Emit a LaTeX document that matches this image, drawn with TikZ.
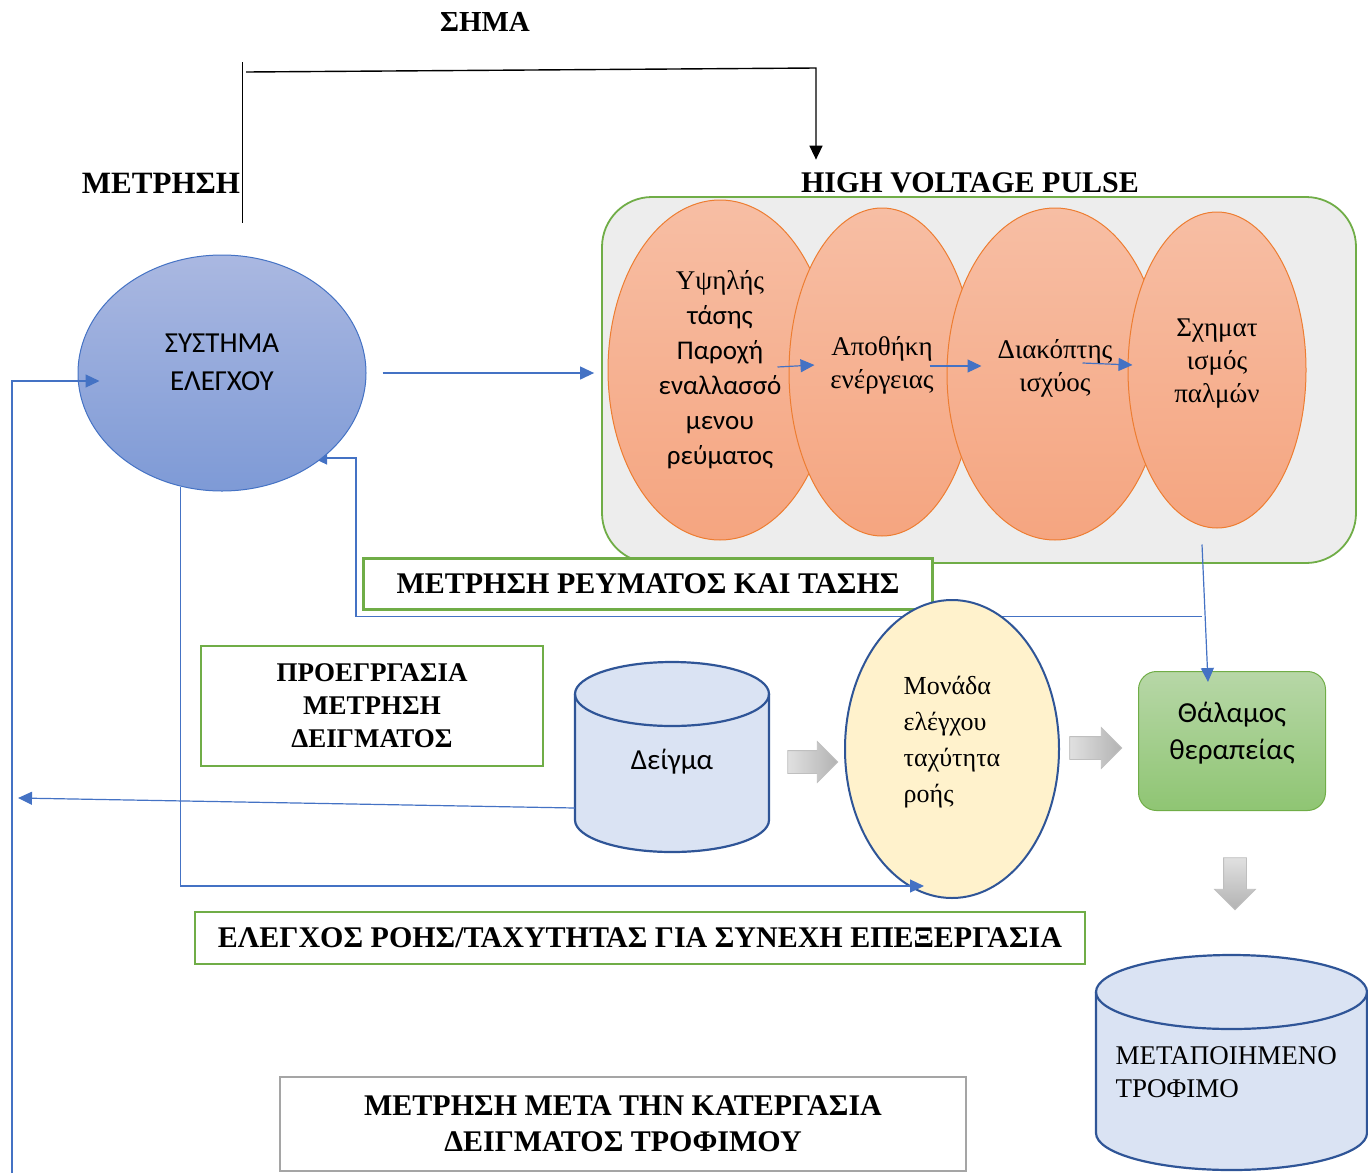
\documentclass[tikz,border=0pt]{standalone}
\usepackage{fontspec}
\setmainfont{Liberation Serif}
\newfontfamily\calibri{Carlito}
\usepackage{tikz}
\usetikzlibrary{shapes.geometric, shapes.arrows, arrows.meta, positioning, calc, backgrounds}
\definecolor{linkblue}{RGB}{68, 114, 196}
\definecolor{okgreen}{RGB}{112, 173, 71}
\definecolor{panelgray}{RGB}{237, 237, 237}
\definecolor{ctrltop}{RGB}{170, 184, 225}
\definecolor{ctrlbot}{RGB}{126, 154, 214}
\definecolor{stageline}{RGB}{237, 125, 49}
\definecolor{stagetop}{RGB}{247, 190, 164}
\definecolor{stagebot}{RGB}{245, 165, 128}
\definecolor{darkblue}{RGB}{47, 85, 151}
\definecolor{cylfill}{RGB}{218, 227, 243}
\definecolor{flowfill}{RGB}{255, 242, 204}
\definecolor{chamtop}{RGB}{183, 215, 167}
\definecolor{chambot}{RGB}{143, 197, 115}
\definecolor{fatgray}{RGB}{191, 191, 191}
\definecolor{framegray}{RGB}{165, 165, 165}

\begin{document}
\begin{tikzpicture}[
    x=1pt, y=-1pt,
    heading/.style={inner sep=0, font=\fontsize{29}{36}\selectfont\bfseries},
    notebox/.style={rectangle, draw=okgreen, line width=2.5, fill=white, align=center, font=\fontsize{30}{36}\selectfont\bfseries},
    stage/.style={ellipse, draw=stageline, line width=1, top color=stagetop, bottom color=stagebot, align=center, inner sep=0, font=\fontsize{27}{33}\selectfont},
    cyl/.style={draw=darkblue, line width=2.2, fill=cylfill},
    fat/.style={single arrow, draw=fatgray, line width=0.8, inner sep=11, minimum height=50, single arrow head extend=9, left color=white!88!black, right color=white!70!black},
    conn/.style={draw=linkblue, line width=1.2, -{Triangle[length=14, width=13]}},
    sig/.style={line width=1.4, -{Triangle[length=14, width=13]}}
]
    \useasboundingbox (0,0) rectangle (1368,1173);

    % Labels on top
    \node[heading] (sima) at (485,22) {ΣΗΜΑ};
    \node[heading, font=\fontsize{31}{36}\selectfont\bfseries] (metrisi) at (161,183) {ΜΕΤΡΗΣΗ};
    \node[heading, font=\fontsize{30}{36}\selectfont\bfseries] (hvlabel) at (970,183) {HIGH VOLTAGE PULSE};

    % Control system
    \node[ellipse, draw=linkblue, line width=1, top color=ctrltop, bottom color=ctrlbot, minimum width=288, minimum height=236, align=center, text depth=22pt, font=\calibri\fontsize{29}{38}\selectfont] (ctrl) at (222,373) {ΣΥΣΤΗΜΑ\\ΕΛΕΓΧΟΥ};

    % Pulse generator
    \node[rectangle, rounded corners=50, draw=okgreen, line width=1.8, fill=panelgray, minimum width=754, minimum height=366] (hvbox) at (979,380) {};
    \node[stage, minimum width=224, minimum height=340, font=\fontsize{27}{35}\selectfont] (supply) at (720,370) {Υψηλής\\{\calibri τάσης}\\{\calibri Παροχή}\\{\calibri εναλλασσό}\\{\calibri μενου}\\{\calibri ρεύματος}};
    \node[stage, minimum width=186, minimum height=328, text depth=20pt] (store) at (882,372) {Αποθήκη\\ενέργειας};
    \node[stage, minimum width=216, minimum height=332, text depth=18pt] (switch) at (1055,374) {Διακόπτης\\ισχύος};
    \node[stage, minimum width=178, minimum height=316, text depth=19pt] (shaper) at (1217,370) {Σχηματ\\ισμός\\παλμών};

    % Text boxes
    \node[notebox, minimum width=569, minimum height=51] (meas) at (648,584) {ΜΕΤΡΗΣΗ ΡΕΥΜΑΤΟΣ ΚΑΙ ΤΑΣΗΣ};
    \node[notebox, minimum width=342, minimum height=120, font=\fontsize{27}{33}\selectfont\bfseries] (prep) at (372,706) {ΠΡΟΕΓΡΓΑΣΙΑ\\ΜΕΤΡΗΣΗ\\ΔΕΙΓΜΑΤΟΣ};
    \node[notebox, minimum width=890, minimum height=52] (flowctl) at (640,938) {ΕΛΕΓΧΟΣ ΡΟΗΣ/ΤΑΧΥΤΗΤΑΣ ΓΙΑ ΣΥΝΕΧΗ ΕΠΕΞΕΡΓΑΣΙΑ};
    \node[notebox, draw=framegray, minimum width=686, minimum height=94] (after) at (623,1124) {ΜΕΤΡΗΣΗ ΜΕΤΑ ΤΗΝ ΚΑΤΕΡΓΑΣΙΑ\\ΔΕΙΓΜΑΤΟΣ ΤΡΟΦΙΜΟΥ};

    % Sample cylinder
    \draw[cyl] (575,694) -- (575,820) arc[start angle=180, end angle=0, x radius=97, y radius=32] -- (769,694) arc[start angle=0, end angle=-180, x radius=97, y radius=32] -- cycle;
    \draw[cyl, fill=none] (575,694) arc[start angle=180, end angle=0, x radius=97, y radius=32];
    \node[inner sep=0, minimum width=194, minimum height=190, font=\calibri\fontsize{29}{32}\selectfont] (deigma) at (672,762) {Δείγμα};

    % Flow unit and chamber
    \node[ellipse, draw=darkblue, line width=2, fill=flowfill, minimum width=214, minimum height=298, align=left, text depth=19pt, font=\fontsize{26}{36}\selectfont] (monada) at (952,749) {Μονάδα\\ελέγχου\\ταχύτητα\\ροής};
    \node[rectangle, rounded corners=18, draw=okgreen, line width=1, top color=chamtop, bottom color=chambot, minimum width=187, minimum height=139, align=center, text depth=21pt, font=\calibri\fontsize{29}{37}\selectfont] (thalamos) at (1232,741) {Θάλαμος\\θεραπείας};

    % Block arrows
    \node[fat] (push1) at (807,762) {};
    \node[fat, minimum height=52] (push2) at (1090,748) {};
    \node[fat, minimum height=52, shape border rotate=270, top color=white!88!black, bottom color=white!70!black] (push3) at (1235,878) {};

    % Product cylinder
    \draw[cyl] (1096,992) -- (1096,1133) arc[start angle=180, end angle=0, x radius=135.5, y radius=37] -- (1367,992) arc[start angle=0, end angle=-180, x radius=135.5, y radius=37] -- cycle;
    \draw[cyl, fill=none] (1096,992) arc[start angle=180, end angle=0, x radius=135.5, y radius=37];
    \node[anchor=west, align=left, font=\fontsize{27}{33}\selectfont] (food) at (1112,1072) {ΜΕΤΑΠΟΙΗΜΕΝΟ\\ΤΡΟΦΙΜΟ};

    % Signal lines
    \coordinate (sigturn) at (816,68);
    \draw[line width=1.4] ($(metrisi.east)+(2,-121)$) -- ($(metrisi.east)+(2,40)$);
    \draw[sig] ($(metrisi.east)+(6,-111)$) -- (sigturn) -- ($(sigturn |- hvlabel.north)+(0,-13)$);

    % Flow arrows
    \draw[conn, shorten <=16, shorten >=7] (ctrl.east) -- (ctrl.east -| hvbox.west);
    \draw[conn] ([xshift=-11, yshift=5]store.west) -- ([xshift=26, yshift=7]store.west);
    \draw[conn] ([xshift=-17, yshift=8]switch.west) -- ([xshift=35, yshift=8]switch.west);
    \draw[conn] ([xshift=-45, yshift=7]shaper.west) -- ([xshift=5, yshift=5]shaper.west);
    \draw[conn] ($(shaper.south)+(-15,16)$) -- ($(thalamos.north)+(-24,11)$);

    % Feedback and control loops
    \coordinate (tap) at ($(shaper.south)+(-15,88)$);
    \begin{scope}[on background layer]
        \draw[conn] (tap) -| ($(ctrl.center)+(134,85)$) -- ($(ctrl.center)+(91,85)$);
    \end{scope}
    \draw[conn] (ctrl.250) |- ($(monada.south)+(-28,-13)$);

    \coordinate (leftend) at (18,798);
    \draw[conn] ($(deigma.west)+(0,46)$) -- (leftend);

    \coordinate (bottomleft) at (12,1173);
    \draw[conn] (bottomleft) |- ($(ctrl.west)+(22,8)$);

\end{tikzpicture}
\end{document}
